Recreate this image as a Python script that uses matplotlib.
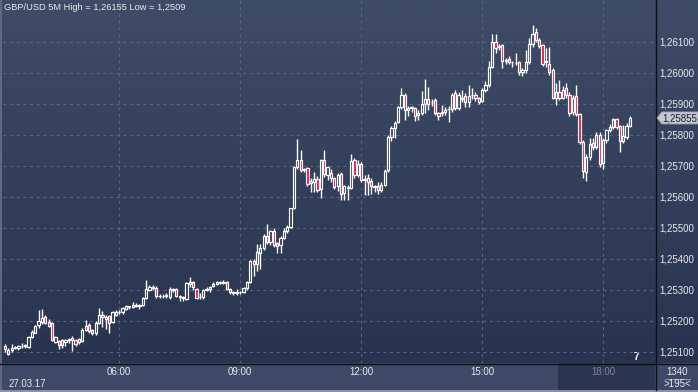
import matplotlib
matplotlib.use("Agg")
import matplotlib.pyplot as plt
import numpy as np
from matplotlib.patches import Rectangle, Polygon

# ---------------- data ----------------
title = "GBP/USD 5M High = 1,26155 Low = 1,2509"
date_label = "27.03.17"
start_time = "03:10"      # time of the first 5-minute candle
step_min = 5
time_ticks = ["06:00", "09:00", "12:00", "15:00", "18:00"]
price_ticks = [1.25100, 1.25200, 1.25300, 1.25400, 1.25500, 1.25600,
               1.25700, 1.25800, 1.25900, 1.26000, 1.26100]
last_price = 1.25855
bottom_right_top = "1340"
bottom_right_bottom = ">195<"
corner_label = "7"

opens = [1.25120, 1.25108, 1.25106, 1.25114, 1.25112, 1.25120, 1.25118, 1.25115, 1.25149, 1.25162,
         1.25186, 1.25198, 1.25212, 1.25198, 1.25193, 1.25133, 1.25135, 1.25138, 1.25131, 1.25139,
         1.25144, 1.25140, 1.25142, 1.25136, 1.25172, 1.25186, 1.25170, 1.25160, 1.25193, 1.25219,
         1.25206, 1.25215, 1.25196, 1.25218, 1.25228, 1.25228, 1.25240, 1.25245, 1.25245, 1.25248,
         1.25252, 1.25252, 1.25273, 1.25300, 1.25308, 1.25306, 1.25280, 1.25282, 1.25280, 1.25277,
         1.25302, 1.25303, 1.25282, 1.25276, 1.25271, 1.25320, 1.25325, 1.25303, 1.25276, 1.25278,
         1.25300, 1.25303, 1.25312, 1.25320, 1.25324, 1.25322, 1.25325, 1.25303, 1.25293, 1.25290,
         1.25292, 1.25294, 1.25305, 1.25325, 1.25395, 1.25385, 1.25420, 1.25435, 1.25475, 1.25455,
         1.25490, 1.25443, 1.25446, 1.25468, 1.25490, 1.25503, 1.25564, 1.25697, 1.25720, 1.25690,
         1.25693, 1.25645, 1.25650, 1.25658, 1.25625, 1.25720, 1.25672, 1.25678, 1.25660, 1.25634,
         1.25673, 1.25612, 1.25633, 1.25630, 1.25720, 1.25670, 1.25705, 1.25655, 1.25660, 1.25650,
         1.25634, 1.25635, 1.25622, 1.25640, 1.25687, 1.25795, 1.25822, 1.25843, 1.25890, 1.25930,
         1.25882, 1.25890, 1.25886, 1.25864, 1.25870, 1.25900, 1.25915, 1.25905, 1.25912, 1.25870,
         1.25872, 1.25875, 1.25883, 1.25883, 1.25935, 1.25887, 1.25920, 1.25925, 1.25908, 1.25928,
         1.25930, 1.25918, 1.25910, 1.25945, 1.25960, 1.26020, 1.26099, 1.26085, 1.26090, 1.26040,
         1.26045, 1.26036, 1.26033, 1.26035, 1.26003, 1.26010, 1.26035, 1.26092, 1.26133, 1.26107,
         1.26090, 1.26035, 1.26030, 1.26010, 1.25920, 1.25940, 1.25920, 1.25950, 1.25930, 1.25875,
         1.25925, 1.25868, 1.25778, 1.25680, 1.25730, 1.25775, 1.25760, 1.25800, 1.25710, 1.25785,
         1.25815, 1.25825, 1.25850, 1.25828, 1.25782, 1.25795, 1.25830]
highs = [1.25125, 1.25112, 1.25125, 1.25120, 1.25124, 1.25130, 1.25126, 1.25152, 1.25170, 1.25188,
         1.25236, 1.25238, 1.25218, 1.25205, 1.25196, 1.25152, 1.25140, 1.25142, 1.25142, 1.25146,
         1.25150, 1.25143, 1.25146, 1.25176, 1.25203, 1.25195, 1.25175, 1.25200, 1.25241, 1.25232,
         1.25218, 1.25220, 1.25233, 1.25234, 1.25234, 1.25246, 1.25252, 1.25250, 1.25260, 1.25258,
         1.25256, 1.25276, 1.25332, 1.25316, 1.25316, 1.25312, 1.25287, 1.25286, 1.25290, 1.25311,
         1.25305, 1.25306, 1.25285, 1.25280, 1.25325, 1.25341, 1.25330, 1.25306, 1.25290, 1.25303,
         1.25310, 1.25314, 1.25325, 1.25328, 1.25330, 1.25332, 1.25328, 1.25305, 1.25297, 1.25303,
         1.25298, 1.25310, 1.25328, 1.25398, 1.25400, 1.25448, 1.25448, 1.25480, 1.25513, 1.25495,
         1.25500, 1.25455, 1.25475, 1.25500, 1.25510, 1.25566, 1.25700, 1.25788, 1.25752, 1.25695,
         1.25697, 1.25660, 1.25680, 1.25668, 1.25722, 1.25750, 1.25700, 1.25690, 1.25665, 1.25678,
         1.25680, 1.25640, 1.25640, 1.25740, 1.25725, 1.25720, 1.25712, 1.25672, 1.25675, 1.25660,
         1.25640, 1.25650, 1.25650, 1.25690, 1.25800, 1.25828, 1.25845, 1.25895, 1.25951, 1.25935,
         1.25895, 1.25895, 1.25890, 1.25880, 1.25942, 1.25980, 1.25955, 1.25915, 1.25918, 1.25875,
         1.25898, 1.25890, 1.25895, 1.25935, 1.25945, 1.25940, 1.25945, 1.25935, 1.25962, 1.25950,
         1.25940, 1.25922, 1.25950, 1.25975, 1.26040, 1.26127, 1.26127, 1.26095, 1.26095, 1.26050,
         1.26054, 1.26040, 1.26065, 1.26040, 1.26015, 1.26073, 1.26113, 1.26155, 1.26145, 1.26112,
         1.26095, 1.26082, 1.26085, 1.26015, 1.25968, 1.25977, 1.25957, 1.25968, 1.25938, 1.25930,
         1.25960, 1.25872, 1.25785, 1.25740, 1.25790, 1.25790, 1.25810, 1.25810, 1.25790, 1.25820,
         1.25835, 1.25855, 1.25855, 1.25832, 1.25832, 1.25840, 1.25862]
lows = [1.25100, 1.25090, 1.25100, 1.25110, 1.25108, 1.25112, 1.25112, 1.25112, 1.25145, 1.25160,
        1.25176, 1.25190, 1.25190, 1.25180, 1.25136, 1.25128, 1.25110, 1.25112, 1.25118, 1.25130,
        1.25103, 1.25118, 1.25125, 1.25132, 1.25168, 1.25160, 1.25155, 1.25155, 1.25190, 1.25182,
        1.25175, 1.25161, 1.25192, 1.25215, 1.25224, 1.25222, 1.25236, 1.25240, 1.25242, 1.25244,
        1.25240, 1.25248, 1.25270, 1.25296, 1.25300, 1.25275, 1.25275, 1.25274, 1.25274, 1.25272,
        1.25295, 1.25278, 1.25266, 1.25266, 1.25268, 1.25310, 1.25300, 1.25270, 1.25270, 1.25272,
        1.25296, 1.25292, 1.25310, 1.25315, 1.25320, 1.25318, 1.25300, 1.25288, 1.25285, 1.25284,
        1.25286, 1.25290, 1.25300, 1.25322, 1.25346, 1.25362, 1.25368, 1.25430, 1.25450, 1.25445,
        1.25440, 1.25420, 1.25420, 1.25465, 1.25485, 1.25500, 1.25560, 1.25690, 1.25680, 1.25680,
        1.25635, 1.25615, 1.25617, 1.25615, 1.25597, 1.25665, 1.25655, 1.25650, 1.25625, 1.25620,
        1.25590, 1.25590, 1.25590, 1.25625, 1.25660, 1.25665, 1.25650, 1.25605, 1.25605, 1.25610,
        1.25615, 1.25610, 1.25615, 1.25635, 1.25680, 1.25780, 1.25790, 1.25840, 1.25885, 1.25849,
        1.25860, 1.25875, 1.25845, 1.25850, 1.25865, 1.25870, 1.25880, 1.25895, 1.25865, 1.25850,
        1.25860, 1.25865, 1.25843, 1.25875, 1.25880, 1.25880, 1.25905, 1.25890, 1.25890, 1.25915,
        1.25910, 1.25900, 1.25905, 1.25940, 1.25955, 1.26015, 1.26065, 1.26075, 1.26016, 1.26030,
        1.26028, 1.26020, 1.26025, 1.25995, 1.25990, 1.26000, 1.26030, 1.26085, 1.26100, 1.26080,
        1.26022, 1.26020, 1.25995, 1.25915, 1.25898, 1.25912, 1.25915, 1.25920, 1.25862, 1.25865,
        1.25860, 1.25770, 1.25660, 1.25651, 1.25720, 1.25750, 1.25755, 1.25698, 1.25690, 1.25775,
        1.25810, 1.25820, 1.25820, 1.25745, 1.25775, 1.25788, 1.25825]
closes = [1.25109, 1.25092, 1.25114, 1.25116, 1.25120, 1.25118, 1.25122, 1.25149, 1.25164, 1.25184,
          1.25200, 1.25210, 1.25195, 1.25184, 1.25139, 1.25148, 1.25122, 1.25124, 1.25139, 1.25142,
          1.25138, 1.25125, 1.25133, 1.25172, 1.25183, 1.25168, 1.25160, 1.25192, 1.25218, 1.25213,
          1.25212, 1.25192, 1.25230, 1.25230, 1.25230, 1.25241, 1.25248, 1.25247, 1.25252, 1.25252,
          1.25250, 1.25273, 1.25303, 1.25310, 1.25310, 1.25280, 1.25282, 1.25280, 1.25283, 1.25303,
          1.25300, 1.25282, 1.25278, 1.25273, 1.25322, 1.25325, 1.25309, 1.25274, 1.25278, 1.25300,
          1.25303, 1.25311, 1.25320, 1.25325, 1.25325, 1.25327, 1.25303, 1.25293, 1.25290, 1.25293,
          1.25294, 1.25305, 1.25325, 1.25395, 1.25385, 1.25421, 1.25435, 1.25475, 1.25454, 1.25490,
          1.25446, 1.25450, 1.25468, 1.25490, 1.25503, 1.25563, 1.25697, 1.25720, 1.25687, 1.25688,
          1.25642, 1.25652, 1.25658, 1.25623, 1.25718, 1.25675, 1.25697, 1.25660, 1.25633, 1.25670,
          1.25610, 1.25635, 1.25628, 1.25715, 1.25670, 1.25707, 1.25656, 1.25657, 1.25650, 1.25635,
          1.25633, 1.25622, 1.25638, 1.25685, 1.25795, 1.25822, 1.25840, 1.25890, 1.25930, 1.25880,
          1.25888, 1.25886, 1.25862, 1.25872, 1.25900, 1.25915, 1.25900, 1.25908, 1.25870, 1.25862,
          1.25875, 1.25880, 1.25885, 1.25930, 1.25887, 1.25930, 1.25915, 1.25908, 1.25926, 1.25930,
          1.25920, 1.25908, 1.25945, 1.25960, 1.26020, 1.26099, 1.26080, 1.26088, 1.26038, 1.26042,
          1.26035, 1.26034, 1.26031, 1.26002, 1.26010, 1.26037, 1.26092, 1.26127, 1.26108, 1.26086,
          1.26030, 1.26038, 1.26002, 1.25920, 1.25940, 1.25918, 1.25946, 1.25930, 1.25871, 1.25920,
          1.25868, 1.25777, 1.25685, 1.25730, 1.25770, 1.25760, 1.25800, 1.25705, 1.25785, 1.25815,
          1.25825, 1.25850, 1.25827, 1.25780, 1.25797, 1.25830, 1.25855]

# ---------------- style ----------------
W, H = 698, 392
PX_L, PX_R, PX_B = 3, 655, 363          # plot area in pixels
TXT = "#e6e9f0"
FONT = "Liberation Sans"
FS = 7.0
BULL_EDGE = "#ffffff"
BEAR_FILL = "#ec1846"

plt.rcParams['font.family'] = [FONT, 'DejaVu Sans']

fig = plt.figure(figsize=(W / 100, H / 100), dpi=100)

# background canvas in pixel coordinates
bg = fig.add_axes([0, 0, 1, 1])
bg.set_xlim(0, W)
bg.set_ylim(H, 0)
bg.axis('off')
t = np.linspace(0, 1, 256).reshape(-1, 1, 1)
top_c = np.array([63, 76, 103]) / 255.0
bot_c = np.array([40, 52, 79]) / 255.0
grad = top_c + (bot_c - top_c) * t
bg.imshow(grad, extent=[0, W, PX_B, 0], aspect='auto', interpolation='bilinear', zorder=0)
# bottom time panel
bg.add_patch(Rectangle((0, PX_B), W, H - PX_B, facecolor="#3d4966", edgecolor='none', zorder=1))
bg.add_patch(Rectangle((558, PX_B), PX_R - 558, H - PX_B, facecolor="#2b3552", edgecolor='none', zorder=1))
# borders / separators
bg.add_patch(Rectangle((0, 0), 2, H, facecolor="#5d6985", edgecolor='none', zorder=2))
bg.add_patch(Rectangle((0, H - 2), W, 2, facecolor="#8a93a6", edgecolor='none', zorder=2))
bg.plot([PX_R + 0.5, PX_R + 0.5], [0, H - 2], color="#0c0f18", lw=1.0, zorder=3)
bg.plot([0, W], [PX_B + 0.5, PX_B + 0.5], color="#0c0f18", lw=1.0, zorder=3)

# main price axes
n = len(closes)
step_px = 3.36
first_px = 5.0
x_left = (PX_L - first_px) / step_px
x_right = (PX_R - first_px) / step_px
px_per_unit = 31000.0
y_top = 1.26100 + 42 / px_per_unit
y_bot = 1.26100 - (PX_B - 42) / px_per_unit

ax = fig.add_axes([PX_L / W, (H - PX_B) / H, (PX_R - PX_L) / W, PX_B / H])
ax.set_xlim(x_left, x_right)
ax.set_ylim(y_bot, y_top)
ax.patch.set_alpha(0)
ax.axis('off')

# time -> candle index
sh, sm = map(int, start_time.split(":"))
start_min = sh * 60 + sm
tick_idx = []
for lab in time_ticks:
    hh, mm = map(int, lab.split(":"))
    tick_idx.append((hh * 60 + mm - start_min) / step_min)

grid_c = "#5a6784"
for p in price_ticks:
    ax.axhline(p, color=grid_c, lw=0.8, ls=(0, (2.5, 3.5)), zorder=1)
for xi in tick_idx:
    ax.axvline(xi, color=grid_c, lw=0.8, ls=(0, (2.5, 3.5)), zorder=1)

bw = 0.66
for i in range(n):
    o, h, l, c = opens[i], highs[i], lows[i], closes[i]
    top = max(o, c)
    bot = min(o, c)
    ax.vlines(i, top, h, color=BULL_EDGE, lw=1.0, zorder=3)
    ax.vlines(i, l, bot, color=BULL_EDGE, lw=1.0, zorder=3)
    fc = BEAR_FILL if c < o else 'none'
    ax.add_patch(Rectangle((i - bw / 2, bot), bw, max(top - bot, 0.000005),
                           facecolor=fc, edgecolor=BULL_EDGE, lw=0.85, zorder=4))

# ---------------- texts ----------------
def fmt(p, d=5):
    return f"{p:.{d}f}".replace(".", ",")

fig.text(4 / W, 1 - 2.5 / H, title, color=TXT, fontsize=6.7, ha='left', va='top')

# right price labels
for p in price_ticks:
    ypx = 42 + (1.26100 - p) * px_per_unit
    bg.text(659, ypx + 0.5, fmt(p), color=TXT, fontsize=FS, ha='left', va='center', zorder=5)

# last price marker
lp_y = 42 + (1.26100 - last_price) * px_per_unit
poly = Polygon([[657, lp_y], [662, lp_y - 6], [698, lp_y - 6], [698, lp_y + 6], [662, lp_y + 6]],
               closed=True, facecolor="#c3c8d1", edgecolor="#9aa1ae", lw=0.6, zorder=6)
bg.add_patch(poly)
bg.text(662, lp_y + 0.5, fmt(last_price), color="#1c2130", fontsize=FS, ha='left', va='center', zorder=7)

# time labels
for lab, xi in zip(time_ticks, tick_idx):
    xpx = first_px + xi * step_px
    col = "#7d8699" if xpx > 558 else TXT
    bg.text(xpx, 372, lab, color=col, fontsize=FS, ha='center', va='center', zorder=5)
bg.text(9, 384, date_label, color=TXT, fontsize=FS, ha='left', va='center', zorder=5)

# bottom right
bg.text(677, 372, bottom_right_top, color=TXT, fontsize=FS, ha='center', va='center', zorder=5)
bg.plot([665, 690], [378.5, 378.5], color="#8e97a9", lw=0.7, zorder=5)
bg.text(677, 384, bottom_right_bottom, color=TXT, fontsize=FS, ha='center', va='center', zorder=5)

# corner marker
bg.add_patch(Polygon([[625, 360], [629, 355], [633, 360]], closed=True,
                     facecolor="#262d42", edgecolor='none', zorder=5))
bg.text(634, 357.5, corner_label, color="#ffffff", fontsize=FS + 0.3, fontweight='bold',
        ha='left', va='center', zorder=6)

fig.savefig("out.png", dpi=100)
